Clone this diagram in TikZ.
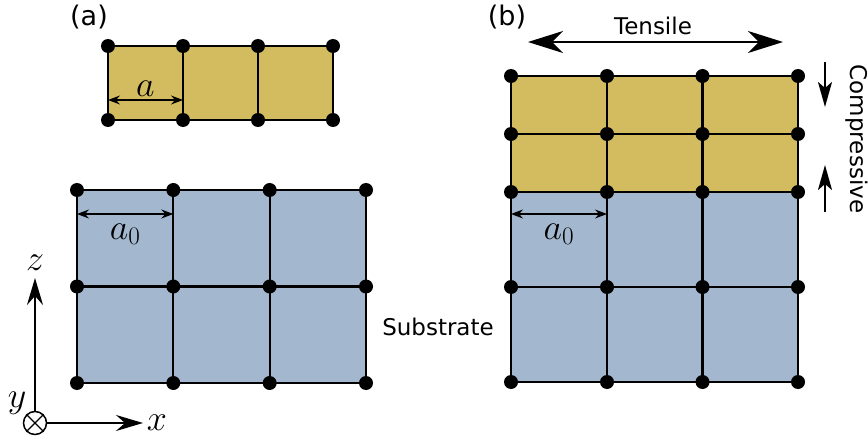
\documentclass[tikz,border=0pt]{standalone}
\usepackage{fix-cm}
\usepackage[no-math]{fontspec}
\newfontfamily\labelfont{DejaVu Sans}
\usepackage{tikz}
\usetikzlibrary{arrows.meta,positioning,calc,backgrounds}
\definecolor{film}{HTML}{D3BC5F}
\definecolor{substrate}{HTML}{A3B7CF}
\tikzset{
  lattice/.style={draw=black,line width=2.3pt},
  atom/.style={circle,fill=black,inner sep=0pt,minimum size=14pt},
  dim/.style={line width=1.3pt,{Stealth[length=12pt,width=9pt,inset=4pt]}-{Stealth[length=12pt,width=9pt,inset=4pt]}},
  axis/.style={line width=2pt,-{Stealth[length=27pt,width=16pt,inset=9pt]}},
  pullarrow/.style={line width=2pt,{Stealth[length=35pt,width=22pt,inset=11pt]}-{Stealth[length=35pt,width=22pt,inset=11pt]}},
  pusharrow/.style={line width=2pt,-{Stealth[length=25pt,width=14pt,inset=6pt]}},
  lbl/.style={font=\labelfont\fontsize{23}{27}\selectfont,inner sep=0pt},
  tag/.style={font=\labelfont\fontsize{27}{31}\selectfont,inner sep=0pt},
  mathlbl/.style={font=\fontsize{36}{40}\selectfont,inner sep=0pt}
}

\begin{document}
\begin{tikzpicture}[x=1pt,y=-1pt]
\useasboundingbox (0,0) rectangle (868,441);
% (a) free film and substrate
\node[tag] (tag-a) at (89,17) {(a)};
\foreach \i/\x in {0/108,1/183,2/258,3/333}
  \foreach \j/\y in {0/46,1/120}
    \node[atom] (fa-\i-\j) at (\x,\y) {};
\foreach \i/\x in {0/77,1/173.3,2/269.7,3/366}
  \foreach \j/\y in {0/190,1/286.5,2/383}
    \node[atom] (sa-\i-\j) at (\x,\y) {};
\begin{scope}[on background layer]
\filldraw[lattice,fill=film] (fa-0-0.center) rectangle (fa-3-1.center);
\draw[lattice] (fa-1-0.center)--(fa-1-1.center) (fa-2-0.center)--(fa-2-1.center);
\filldraw[lattice,fill=substrate] (sa-0-0.center) rectangle (sa-3-2.center);
\draw[lattice] (sa-1-0.center)--(sa-1-2.center) (sa-2-0.center)--(sa-2-2.center);
\draw[lattice] (sa-0-1.center)--(sa-3-1.center);
\end{scope}
\draw[dim] ($(fa-0-1.center)+(0,-20)$)--($(fa-1-1.center)+(0,-20)$) node[midway,above=3pt,mathlbl] (lbl-a) {$a$};
\draw[dim] ($(sa-0-0.center)+(0,24)$)--($(sa-1-0.center)+(0,24)$) node[midway,below=9pt,mathlbl] (lbl-a0) {$a_0$};
\node[lbl] (substrate) at (438,327) {Substrate};
% axes
\node[draw,circle,fill=white,line width=1.5pt,minimum size=23pt,inner sep=0pt] (origin) at (35,423) {};
\draw[line width=1.2pt] (origin.north east)--(origin.south west) (origin.north west)--(origin.south east);
\coordinate (z-end) at (35,278);
\coordinate (x-end) at (143,423);
\draw[axis] (origin)--(z-end);
\draw[axis] (origin)--(x-end);
\node[mathlbl] (lbl-z) at (35,263) {$z$};
\node[mathlbl] (lbl-x) at (157,423) {$x$};
\node[mathlbl] (lbl-y) at (17,403) {$y$};
% (b) strained film on substrate
\node[tag] (tag-b) at (507,17) {(b)};
\foreach \i/\x in {0/511,1/607,2/702.5,3/798}
  \foreach \j/\y in {0/76,1/134,2/192,3/287,4/382}
    \node[atom] (b-\i-\j) at (\x,\y) {};
\begin{scope}[on background layer]
\filldraw[lattice,fill=film] (b-0-0.center) rectangle (b-3-2.center);
\filldraw[lattice,fill=substrate] (b-0-2.center) rectangle (b-3-4.center);
\draw[lattice] (b-1-0.center)--(b-1-4.center) (b-2-0.center)--(b-2-4.center);
\draw[lattice] (b-0-1.center)--(b-3-1.center) (b-0-3.center)--(b-3-3.center);
\end{scope}
\draw[dim] ($(b-0-2.center)+(0,22)$)--($(b-1-2.center)+(0,22)$) node[midway,below=9pt,mathlbl] (lbl-b-a0) {$a_0$};
\coordinate (t-left) at (528,42);
\coordinate (t-right) at (783,42);
\draw[pullarrow] (t-left)--(t-right);
\node[lbl] (tensile) at (653,26) {Tensile};
\coordinate (c-top) at (825,62);
\coordinate (c-top-end) at (825,107);
\coordinate (c-bot) at (825,212);
\coordinate (c-bot-end) at (825,165);
\draw[pusharrow] (c-top)--(c-top-end);
\draw[pusharrow] (c-bot)--(c-bot-end);
\node[lbl,rotate=-90] (compressive) at (857,139) {Compressive};
\end{tikzpicture}
\end{document}
